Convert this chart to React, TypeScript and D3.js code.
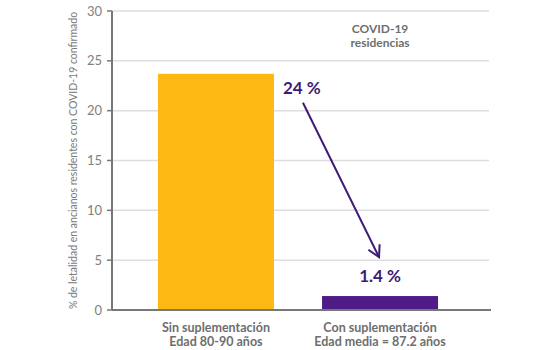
import React from "react";
import * as d3 from "d3";

// datos del gráfico
const categories = ["Sin suplementación", "Con suplementación"];
const subLabels = ["Edad 80-90 años", "Edad media = 87.2 años"];
const values = [23.7, 1.4];
const valueLabels = ["24 %", "1.4 %"];
const barColors = ["#FDB913", "#4F1C87"];
const yTicks = [0, 5, 10, 15, 20, 25, 30];

const width = 550;
const height = 350;
const margin = { top: 11, right: 66, bottom: 40, left: 112 };
const font = "Lato, 'Open Sans', sans-serif";
const purple = "#3E1A78";

export default function App() {
  const innerW = width - margin.left - margin.right;
  const innerH = height - margin.top - margin.bottom;

  const x = d3.scaleBand().domain(categories).range([0, innerW]).paddingInner(0.293).paddingOuter(0.28);
  const y = d3.scaleLinear().domain([0, 30]).range([innerH, 0]);

  // flecha de 24 % a 1.4 %
  const x0 = x(categories[0])! + x.bandwidth() + 29;
  const y0 = y(values[0]) + 29;
  const x1 = x(categories[1])! + x.bandwidth() / 2 - 1;
  const y1 = y(5.3);
  const ang = Math.atan2(y1 - y0, x1 - x0);
  const head = 13;
  const spread = 0.5;
  const hp = (s: number) =>
    `${x1 - head * Math.cos(ang + s)},${y1 - head * Math.sin(ang + s)}`;

  const cx1 = x(categories[1])! + x.bandwidth() / 2;

  return (
    <svg width={width} height={height} style={{ position: "absolute", left: 0, top: 0 }}>
      <g transform={`translate(${margin.left},${margin.top})`}>
        {yTicks.filter((t) => t > 0).map((t) => (
          <line key={"g" + t} x1={0} x2={innerW + 5} y1={y(t)} y2={y(t)} stroke="#DEDEDE" strokeWidth={1.5} />
        ))}
        {categories.map((c, i) => (
          <rect
            key={c}
            x={x(c)}
            y={y(values[i])}
            width={x.bandwidth()}
            height={innerH - y(values[i])}
            fill={barColors[i]}
          />
        ))}
        {/* ejes */}
        <line x1={0} x2={innerW + 7} y1={innerH} y2={innerH} stroke="#777" strokeWidth={2} />
        <line x1={0} x2={0} y1={0} y2={innerH} stroke="#777" strokeWidth={2} />
        {yTicks.map((t) => (
          <g key={"t" + t}>
            <line x1={-5} x2={0} y1={y(t)} y2={y(t)} stroke="#777" strokeWidth={1.5} />
            <text x={-10} y={y(t)} dy="0.35em" textAnchor="end" fontFamily={font} fontSize={13} fill="#808080">
              {t}
            </text>
          </g>
        ))}
        {categories.map((c, i) => (
          <g key={"l" + c}>
            <text
              x={x(c)! + x.bandwidth() / 2}
              y={innerH + 22}
              textAnchor="middle"
              fontFamily={font}
              fontWeight={700}
              fontSize={12.5}
              fill="#6E6E6E"
            >
              {c}
            </text>
            <text
              x={x(c)! + x.bandwidth() / 2}
              y={innerH + 36}
              textAnchor="middle"
              fontFamily={font}
              fontWeight={700}
              fontSize={12.5}
              fill="#6E6E6E"
            >
              {subLabels[i]}
            </text>
          </g>
        ))}
        {/* etiquetas de valor */}
        <text x={x(categories[0])! + x.bandwidth() + 9} y={y(values[0]) + 20} fontFamily={font} fontWeight={700} fontSize={17} fill={purple}>
          {valueLabels[0]}
        </text>
        <text x={cx1} y={y(values[1]) - 14} textAnchor="middle" fontFamily={font} fontWeight={700} fontSize={17} fill={purple}>
          {valueLabels[1]}
        </text>
        <line x1={x0} y1={y0} x2={x1} y2={y1} stroke={purple} strokeWidth={2} />
        <polyline points={`${hp(spread)} ${x1},${y1} ${hp(-spread)}`} fill="none" stroke={purple} strokeWidth={2} />
        {/* leyenda */}
        <text x={cx1} y={22} textAnchor="middle" fontFamily={font} fontWeight={700} fontSize={12} fill="#6E6E6E">
          COVID-19
        </text>
        <text x={cx1} y={36} textAnchor="middle" fontFamily={font} fontWeight={700} fontSize={12} fill="#6E6E6E">
          residencias
        </text>
      </g>
      <text
        transform={`translate(77,${margin.top + innerH / 2}) rotate(-90)`}
        textAnchor="middle"
        fontFamily={font}
        fontSize={10.5}
        fill="#7A7A7A"
      >
        % de letalidad en ancianos residentes con COVID-19 confirmado
      </text>
    </svg>
  );
}
